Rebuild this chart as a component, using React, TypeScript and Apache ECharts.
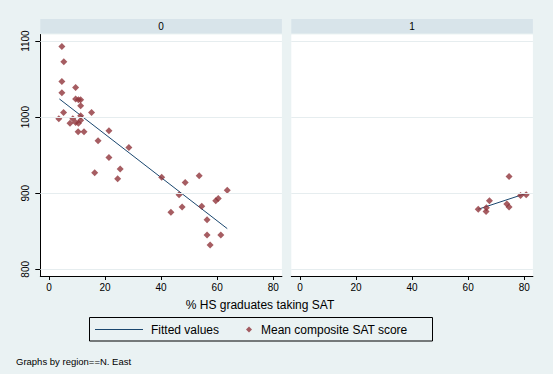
import React, { useEffect, useRef } from "react";
import * as echarts from "echarts";

const panelNames = ["0", "1"];
const xTicks = [0, 20, 40, 60, 80];
const yTicks = [800, 900, 1000, 1100];

const panel0X = [3.5, 7.5, 8.5, 9.5, 10.5, 11.3, 11.3, 10.4, 12.5, 5.2, 15.2, 11.3, 9.5, 10.5, 11.3, 9.5, 4.6, 4.6, 5.3, 4.6, 21.4, 28.5, 17.5, 21.4, 16.3, 25.4, 24.5, 40.2, 43.5, 46.4, 47.5, 48.6, 53.6, 54.5, 56.4, 56.4, 57.5, 59.5, 60.4, 61.3, 63.6];
const panel0Y = [998, 992, 998, 993, 992, 996, 1002, 981, 981, 1006, 1006, 1015, 1024, 1023, 1023, 1039, 1032, 1047, 1073, 1093, 982, 960, 969, 947, 927, 932, 919, 921, 875, 898, 882, 914, 923, 883, 865, 845, 832, 890, 893, 845, 904];
const panel1X = [63.6, 66.5, 66.4, 67.6, 73.8, 74.6, 74.6, 78.7, 80.7];
const panel1Y = [879, 881, 876, 890, 886, 882, 922, 897, 898];

const fit0X = [3.7, 63.6];
const fit0Y = [1024, 853.5];
const fit1X = [63.6, 80.7];
const fit1Y = [879, 899.8];

const BG = "#EAF2F3";
const STRIP = "#D8E4EA";
const MARKER = "#90353B";
const LINE = "#1A476F";
const FONT = "Liberation Sans";

const zip = (xs: number[], ys: number[]) => xs.map((x, i) => [x, ys[i]]);

export default function App() {
  const ref = useRef<HTMLDivElement>(null);
  useEffect(() => {
    document.body.style.margin = "0";
    if (!ref.current) return;
    const chart = echarts.init(ref.current, null, { renderer: "svg" });
    const gridTop = 34.5;
    const gridH = 241.5;
    const gridW = 241.6;
    const grids = [
      { left: 40.3, top: gridTop, width: gridW, height: gridH },
      { left: 291.3, top: gridTop, width: gridW, height: gridH },
    ].map((g) => ({ ...g, show: true, backgroundColor: "#ffffff", borderWidth: 0 }));

    const xAxes = [0, 1].map((i) => ({
      type: "value",
      gridIndex: i,
      min: -3.1,
      max: 83.1,
      axisLine: { show: true, lineStyle: { color: "#000", width: 1 } },
      axisTick: { show: true, length: 4, customValues: xTicks, lineStyle: { color: "#000" } },
      axisLabel: { customValues: xTicks, color: "#000", fontFamily: FONT, fontSize: 10, margin: 6 },
      splitLine: { show: false },
    }));
    const yAxes = [0, 1].map((i) => ({
      type: "value",
      gridIndex: i,
      min: 791.2,
      max: 1108.7,
      axisLine: { show: i === 0, onZero: false, lineStyle: { color: "#000", width: 1 } },
      axisTick: { show: i === 0, length: 5, customValues: yTicks, lineStyle: { color: "#000" } },
      axisLabel: {
        show: i === 0,
        customValues: yTicks,
        rotate: 90,
        color: "#000",
        fontFamily: FONT,
        fontSize: 10,
        margin: 10,
        formatter: (v: number) => String(v),
      },
      splitLine: { show: false },
    }));

    const gridMark = {
      silent: true,
      symbol: "none",
      label: { show: false },
      lineStyle: { color: "#E6EDEF", width: 1, type: "solid" },
      data: yTicks.map((v) => ({ yAxis: v })),
      animation: false,
    };

    const fits = [zip(fit0X, fit0Y), zip(fit1X, fit1Y)];
    const pts = [zip(panel0X, panel0Y), zip(panel1X, panel1Y)];

    const series: any[] = [];
    [0, 1].forEach((i) => {
      series.push({
        name: "Fitted values",
        type: "line",
        xAxisIndex: i,
        yAxisIndex: i,
        data: fits[i],
        symbol: "none",
        showSymbol: false,
        lineStyle: { color: LINE, width: 1 },
        itemStyle: { color: LINE },
        z: 3,
        markLine: gridMark,
      });
      series.push({
        name: "Mean composite SAT score",
        type: "scatter",
        xAxisIndex: i,
        yAxisIndex: i,
        data: pts[i],
        symbol: "diamond",
        symbolSize: 7,
        itemStyle: { color: MARKER },
        z: 4,
      });
    });

    const option: any = {
      animation: false,
      backgroundColor: BG,
      textStyle: { fontFamily: FONT },
      grid: grids,
      xAxis: xAxes,
      yAxis: yAxes,
      series,
      legend: [
        {
          data: ["Fitted values"],
          left: 95,
          top: 323.5,
          padding: 0,
          itemWidth: 48,
          itemHeight: 1,
          icon: "rect",
          itemStyle: { color: LINE },
          textStyle: { color: "#000", fontSize: 12, fontFamily: FONT, padding: [0, 0, 0, 3] },
          selectedMode: false,
        },
        {
          data: ["Mean composite SAT score"],
          left: 246,
          top: 323.5,
          padding: 0,
          itemWidth: 6,
          itemHeight: 6,
          icon: "diamond",
          itemStyle: { color: MARKER },
          textStyle: { color: "#000", fontSize: 12, fontFamily: FONT, padding: [0, 0, 0, 4] },
          selectedMode: false,
        },
      ],
      graphic: [
        { type: "rect", shape: { x: 40.3, y: 19, width: gridW, height: 14.5 }, style: { fill: STRIP }, silent: true },
        { type: "rect", shape: { x: 291.3, y: 19, width: gridW, height: 14.5 }, style: { fill: STRIP }, silent: true },
        { type: "text", x: 40.3 + gridW / 2, y: 26.5, style: { text: panelNames[0], fill: "#000", font: `10px ${FONT}`, textAlign: "center", textVerticalAlign: "middle" } },
        { type: "text", x: 291.3 + gridW / 2, y: 26.5, style: { text: panelNames[1], fill: "#000", font: `10px ${FONT}`, textAlign: "center", textVerticalAlign: "middle" } },
        { type: "text", x: 260, y: 305, style: { text: "% HS graduates taking SAT", fill: "#000", font: `12px ${FONT}`, textAlign: "center", textVerticalAlign: "middle" } },
        { type: "rect", shape: { x: 89.5, y: 317.5, width: 343, height: 23.5 }, style: { fill: "none", stroke: "#000", lineWidth: 1 }, silent: true },
        { type: "text", x: 16, y: 361.5, style: { text: "Graphs by region==N. East", fill: "#000", font: `9.5px ${FONT}`, textAlign: "left", textVerticalAlign: "middle" } },
      ],
    };
    chart.setOption(option);
    return () => chart.dispose();
  }, []);
  return <div ref={ref} style={{ width: 553, height: 374, background: BG }} />;
}
